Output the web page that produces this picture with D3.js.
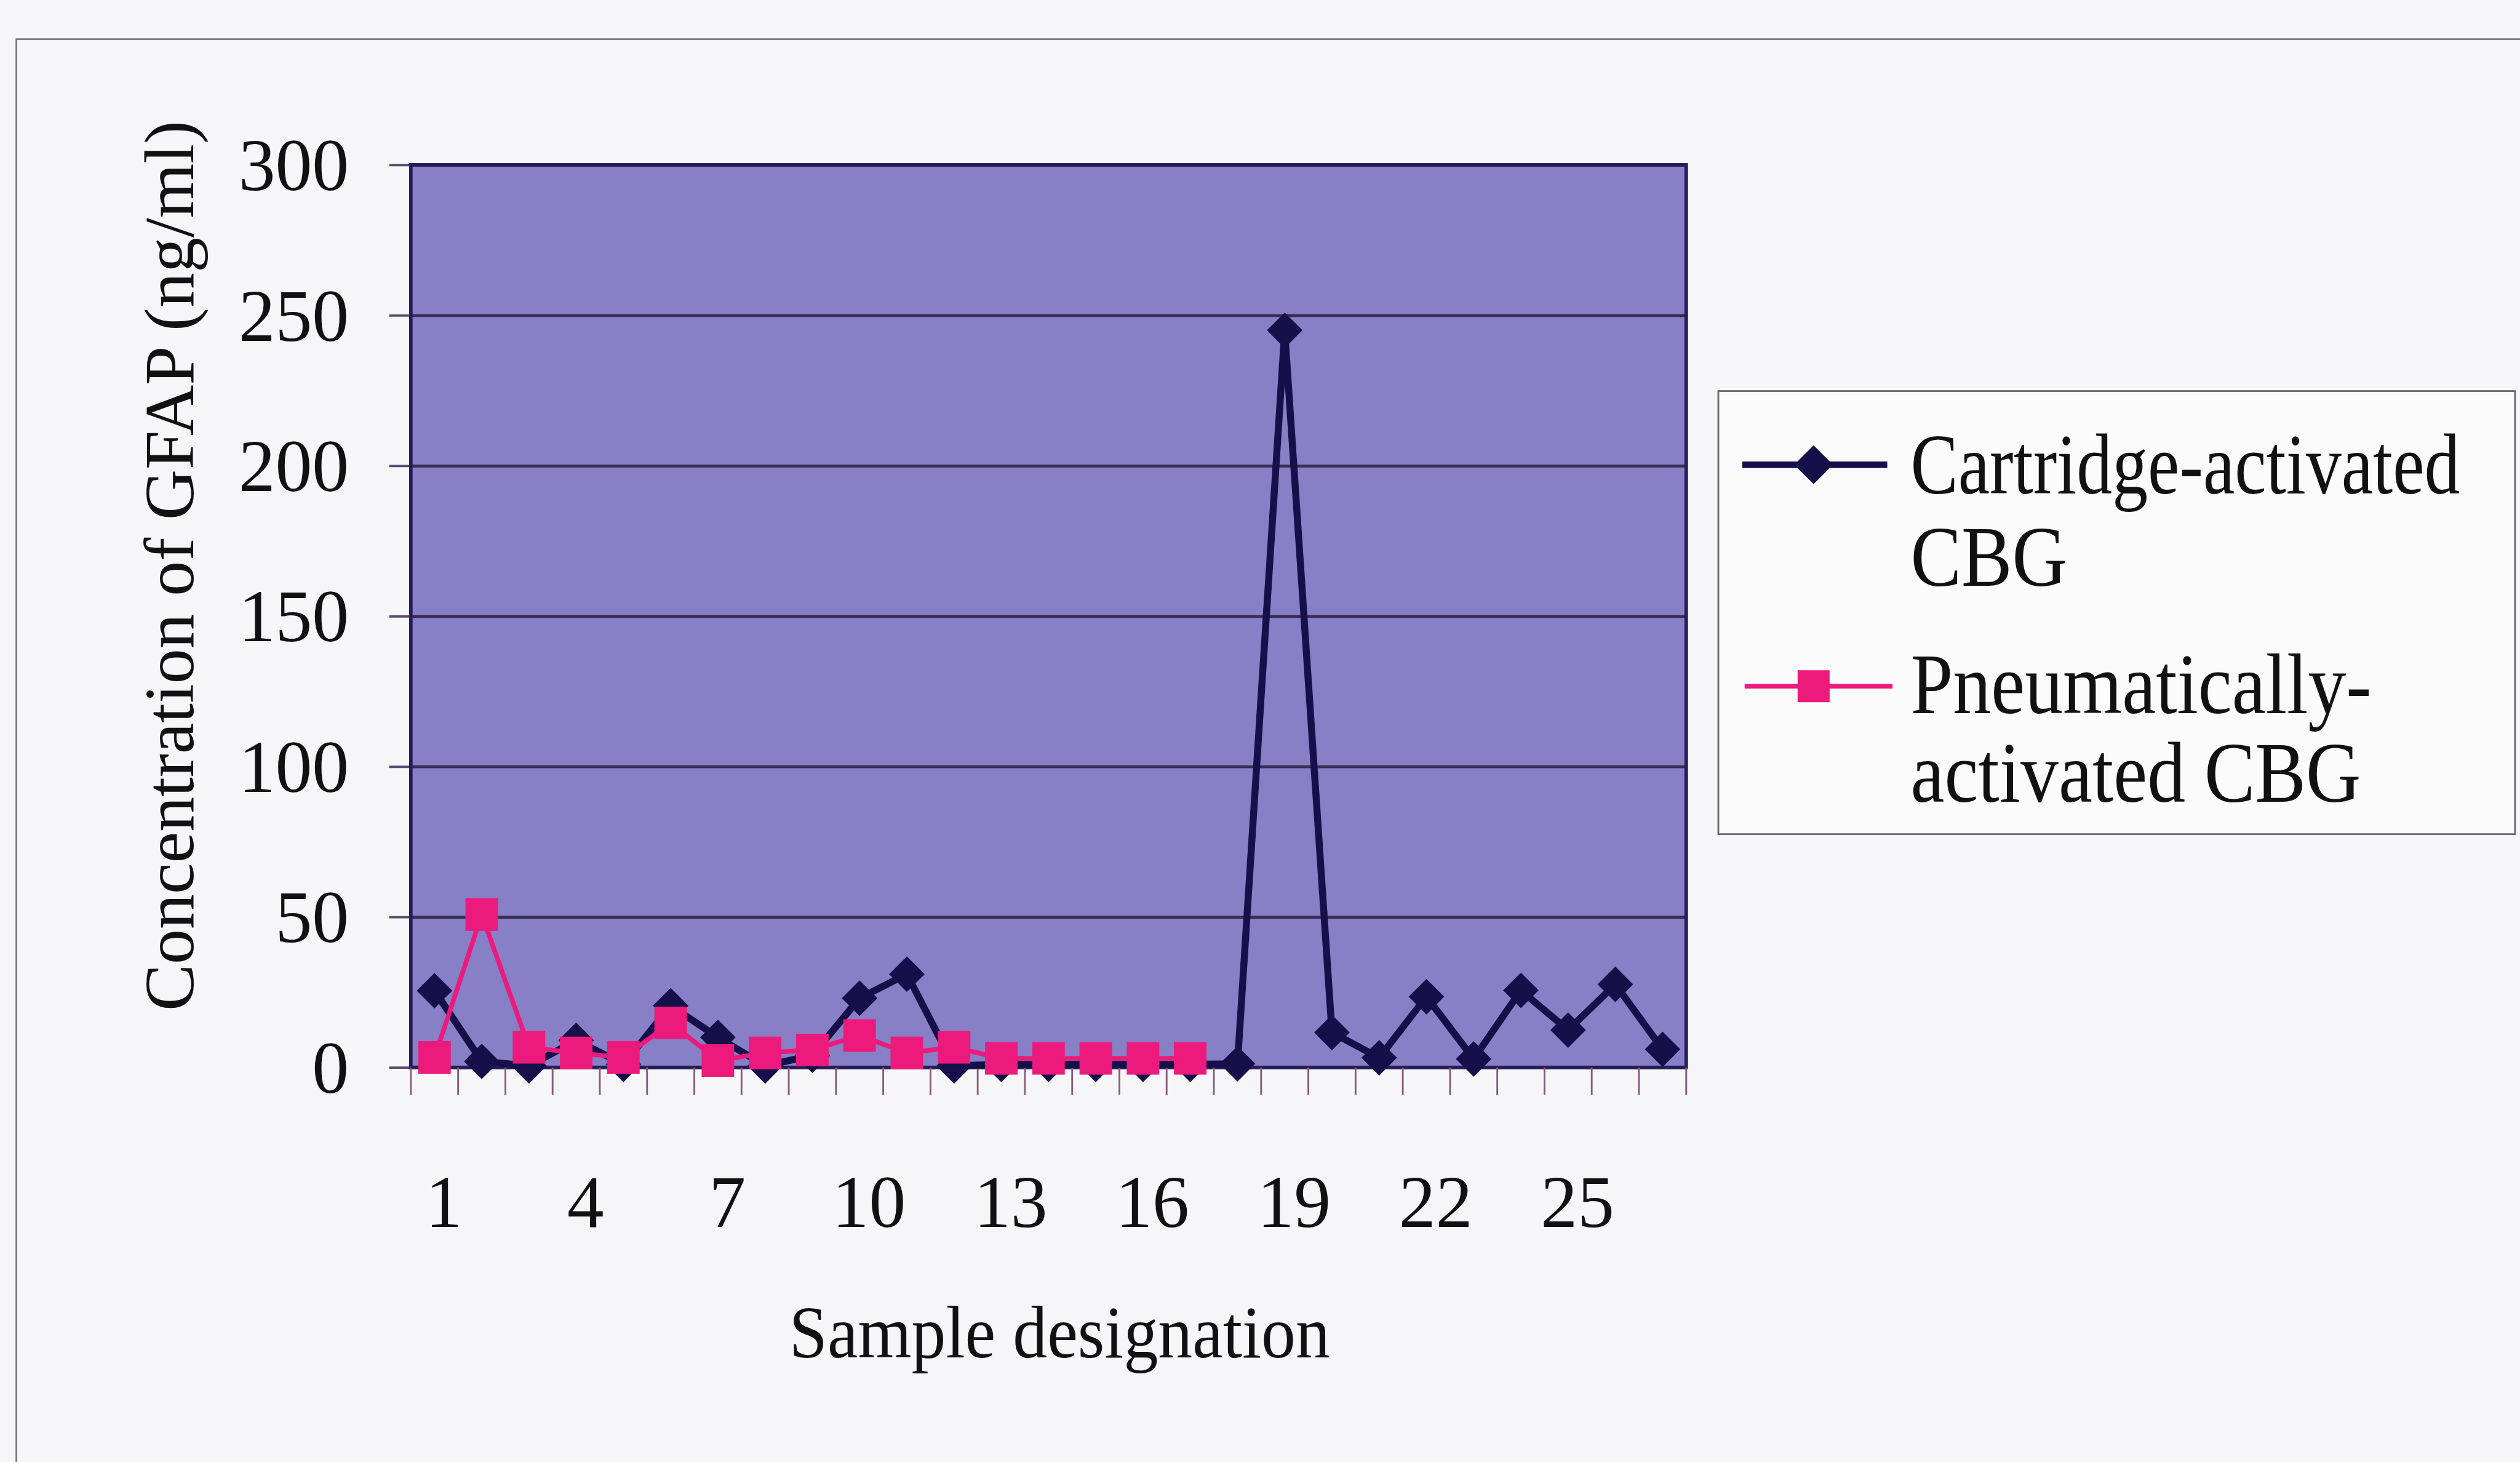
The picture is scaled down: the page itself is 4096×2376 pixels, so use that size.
<!DOCTYPE html>
<html>
<head>
<meta charset="utf-8">
<script src="https://cdn.jsdelivr.net/npm/d3@7"></script>
<style>
body { margin: 0; background: #f6f6f8; }
svg { display: block; }
text { font-family: "Liberation Serif", "Times New Roman", serif; fill: #111; }
</style>
</head>
<body>
<svg id="chart"></svg>
<script>
// data
var samples = [1,2,3,4,5,6,7,8,9,10,11,12,13,14,15,16,17,18,19,20,21,22,23,24,25,26,27];
var tickLabels = [1,4,7,10,13,16,19,22,25];
var yTicks = [0,50,100,150,200,250,300];
var cartridge = [25.5,2,0.5,9,1,20.5,10,0.5,4,23,31,0.5,1,1,1,1,1,1.2,245,11.6,3.2,23.5,2.8,25.6,12.4,27.6,6];
var pneumatic = [3.3,50.8,6.7,4.8,3.3,14.8,2.3,4.8,5.8,10.6,4.8,6.7,3,3,3,3,3];
var seriesNames = [["Cartridge-activated", "CBG"], ["Pneumatically-", "activated CBG"]];

var navy = "#16104a";
var pink = "#ec1a7c";
var serif = "'Liberation Serif', 'Times New Roman', serif";

var svg = d3.select("#chart")
.attr("width", 4096)
.attr("height", 2376);

// everything is laid out in reference pixels, then shrunk
var g = svg.append("g")
.attr("transform", "scale(0.95)");

var plotLeft = 703, plotRight = 2885, plotTop = 282, plotBottom = 1826;

var x = d3.scaleBand()
.domain(samples)
.range([plotLeft, plotRight]);
var y = d3.scaleLinear()
.domain([0, 300])
.range([plotBottom, plotTop]);

// outer frame (runs off the page on the right and bottom)
g.append("rect")
.attr("x", 28)
.attr("y", 67)
.attr("width", 4400)
.attr("height", 2600)
.attr("fill", "none")
.attr("stroke", "#7a7a82")
.attr("stroke-width", 3);

// plot area
g.append("rect")
.attr("x", plotLeft)
.attr("y", plotTop)
.attr("width", plotRight-plotLeft)
.attr("height", plotBottom-plotTop)
.attr("fill", "#8780c6");

var grid = g.append("g")
.attr("transform", "translate("+plotLeft+",0)")
.call(d3.axisLeft(y).tickValues(yTicks).tickSize(-(plotRight-plotLeft)).tickFormat(""));
grid.select(".domain").remove();
grid.selectAll("line")
.attr("stroke", "#3b2c55")
.attr("stroke-width", 5);

var yAxis = g.append("g")
.attr("transform", "translate("+plotLeft+",0)")
.call(d3.axisLeft(y).tickValues(yTicks).tickSize(37).tickPadding(69));
yAxis.select(".domain").remove();
yAxis.selectAll("line")
.attr("stroke", "#5a4a6e")
.attr("stroke-width", 4);
yAxis.selectAll("text")
.attr("font-family", serif)
.attr("font-size", 126)
.attr("dy", "0.34em")
.attr("fill", "#111");

// plot border
g.append("rect")
.attr("x", plotLeft)
.attr("y", plotTop)
.attr("width", plotRight-plotLeft)
.attr("height", plotBottom-plotTop)
.attr("fill", "none")
.attr("stroke", "#261c58")
.attr("stroke-width", 6);

// category ticks sit between the samples
var bounds = samples.map(function(d) { return x(d); }).concat([x.range()[1]]);
g.append("g").selectAll("line")
.data(bounds)
.join("line")
.attr("x1", function(d) { return d; })
.attr("x2", function(d) { return d; })
.attr("y1", plotBottom)
.attr("y2", plotBottom+47)
.attr("stroke", "#8a5a75")
.attr("stroke-width", 3);

var xAxis = g.append("g")
.attr("transform", "translate(16,"+plotBottom+")")
.call(d3.axisBottom(x).tickValues(tickLabels).tickSize(0).tickPadding(183));
xAxis.select(".domain").remove();
xAxis.selectAll("text")
.attr("font-family", serif)
.attr("font-size", 126)
.attr("fill", "#111");

// axis titles
g.append("text")
.attr("transform", "translate(1813,2322) scale(0.92,1)")
.attr("text-anchor", "middle")
.attr("font-size", 128)
.text("Sample designation");

g.append("text")
.attr("transform", "translate(330,968) rotate(-90)")
.attr("text-anchor", "middle")
.attr("font-size", 120)
.text("Concentration of GFAP (ng/ml)");

// series
var cx = function(d, i) { return x(samples[i]) + x.bandwidth()/2; };
var line = d3.line()
.x(cx)
.y(function(d) { return y(d); });

var diamond = d3.symbol(d3.symbolSquare, 1850);
var square = d3.symbol(d3.symbolSquare, 3100);

g.append("path")
.datum(cartridge)
.attr("d", line)
.attr("fill", "none")
.attr("stroke", navy)
.attr("stroke-width", 12)
.attr("stroke-linejoin", "round");
g.append("g").selectAll("path")
.data(cartridge)
.join("path")
.attr("d", diamond)
.attr("transform", function(d, i) { return "translate("+[cx(d, i), y(d)]+") rotate(45)"; })
.attr("fill", navy);

g.append("path")
.datum(pneumatic)
.attr("d", line)
.attr("fill", "none")
.attr("stroke", pink)
.attr("stroke-width", 8)
.attr("stroke-linejoin", "round");
g.append("g").selectAll("path")
.data(pneumatic)
.join("path")
.attr("d", square)
.attr("transform", function(d, i) { return "translate("+[cx(d, i), y(d)]+")"; })
.attr("fill", pink);

// legend
var gLegend = g.append("g");
gLegend.append("rect")
.attr("x", 2940)
.attr("y", 669)
.attr("width", 1363)
.attr("height", 758)
.attr("fill", "#fbfbfc")
.attr("stroke", "#6a6a70")
.attr("stroke-width", 3);

gLegend.append("line")
.attr("x1", 2981).attr("x2", 3229)
.attr("y1", 795).attr("y2", 795)
.attr("stroke", navy)
.attr("stroke-width", 11);
gLegend.append("path")
.attr("d", d3.symbol(d3.symbolSquare, 2200))
.attr("transform", "translate(3103,795) rotate(45)")
.attr("fill", navy);

gLegend.append("line")
.attr("x1", 2985).attr("x2", 3238)
.attr("y1", 1174).attr("y2", 1174)
.attr("stroke", pink)
.attr("stroke-width", 8);
gLegend.append("path")
.attr("d", d3.symbol(d3.symbolSquare, 3000))
.attr("transform", "translate(3103,1174)")
.attr("fill", pink);

var legendLines = [
	[seriesNames[0][0], 844],
	[seriesNames[0][1], 1002],
	[seriesNames[1][0], 1220],
	[seriesNames[1][1], 1372]
];
gLegend.selectAll("text")
.data(legendLines)
.join("text")
.attr("transform", function(d) { return "translate(3269,"+d[1]+") scale(0.88,1)"; })
.attr("font-size", 148)
.text(function(d) { return d[0]; });
// the first line is set tighter in the reference
gLegend.select("text")
.attr("textLength", 1068)
.attr("lengthAdjust", "spacingAndGlyphs");
</script>
</body>
</html>
